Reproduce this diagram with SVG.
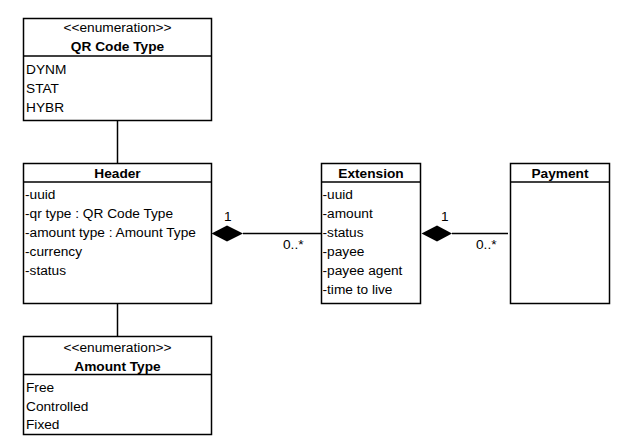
<svg xmlns="http://www.w3.org/2000/svg" width="624" height="444" viewBox="0 0 624 444">
<style>
.box{fill:#fff;stroke:#000;stroke-width:1.5}
.ln{stroke:#000;stroke-width:1.5;fill:none}
text{font-family:"Liberation Sans",Arial,sans-serif;font-size:13.7px;fill:#000}
.c{text-anchor:middle}
.b{font-weight:bold}
</style>
<rect width="624" height="444" fill="#fff"/>
<g id="connectors">
<line class="ln" x1="117.5" y1="121" x2="117.5" y2="163"/>
<line class="ln" x1="117.5" y1="304" x2="117.5" y2="336"/>
<line class="ln" x1="243" y1="233.5" x2="321" y2="233.5"/>
<polygon points="211.5,233.5 227,225.5 243,233.5 227,241.5" fill="#000"/>
<text x="224" y="221">1</text>
<text x="283" y="249">0..*</text>
<line class="ln" x1="452" y1="233.5" x2="508" y2="233.5"/>
<polygon points="421.5,233.5 437,225.5 452,233.5 437,241.5" fill="#000"/>
<text x="441" y="221">1</text>
<text x="476" y="249">0..*</text>
</g>
<g id="qrcodetype">
<rect class="box" x="23.5" y="18.5" width="188" height="102"/>
<line class="ln" x1="23.5" y1="56" x2="211.5" y2="56"/>
<text class="c" x="117.5" y="32">&lt;&lt;enumeration&gt;&gt;</text>
<text class="c b" x="117.5" y="51">QR Code Type</text>
<text x="26" y="74">DYNM</text>
<text x="26" y="93">STAT</text>
<text x="26" y="112">HYBR</text>
</g>
<g id="header">
<rect class="box" x="23.5" y="163.5" width="188" height="140"/>
<line class="ln" x1="23.5" y1="182" x2="211.5" y2="182"/>
<text class="c b" x="117.5" y="178">Header</text>
<text x="25" y="199">-uuid</text>
<text x="25" y="218">-qr type : QR Code Type</text>
<text x="25" y="237">-amount type : Amount Type</text>
<text x="25" y="256">-currency</text>
<text x="25" y="275">-status</text>
</g>
<g id="amounttype">
<rect class="box" x="23.5" y="336.5" width="188" height="98"/>
<line class="ln" x1="23.5" y1="374.5" x2="211.5" y2="374.5"/>
<text class="c" x="117.5" y="352">&lt;&lt;enumeration&gt;&gt;</text>
<text class="c b" x="117.5" y="371">Amount Type</text>
<text x="26" y="392">Free</text>
<text x="26" y="411">Controlled</text>
<text x="26" y="429">Fixed</text>
</g>
<g id="extension">
<rect class="box" x="321.5" y="163.5" width="99" height="140"/>
<line class="ln" x1="321.5" y1="182" x2="420.5" y2="182"/>
<text class="c b" x="371" y="178">Extension</text>
<text x="322.5" y="199">-uuid</text>
<text x="322.5" y="218">-amount</text>
<text x="322.5" y="237">-status</text>
<text x="322.5" y="256">-payee</text>
<text x="322.5" y="275">-payee agent</text>
<text x="322.5" y="294">-time to live</text>
</g>
<g id="payment">
<rect class="box" x="510.5" y="163.5" width="99" height="140"/>
<line class="ln" x1="510.5" y1="182" x2="609.5" y2="182"/>
<text class="c b" x="560" y="178">Payment</text>
</g>
</svg>
